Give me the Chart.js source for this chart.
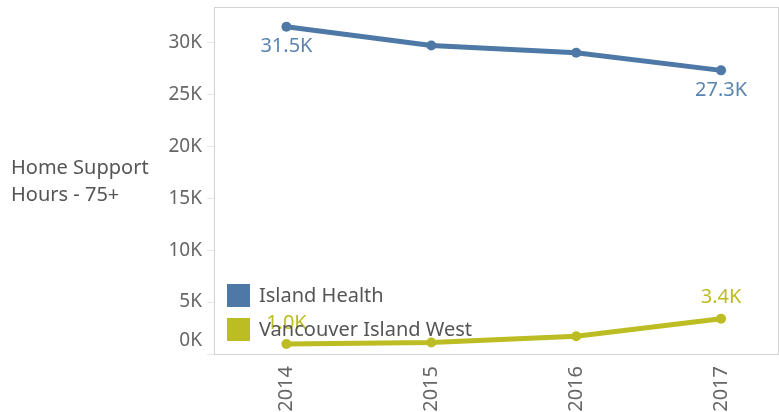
<!DOCTYPE html>
<html>
<head>
<meta charset="utf-8">
<script src="https://cdn.jsdelivr.net/npm/chart.js@4/dist/chart.umd.min.js"></script>
<style>
  body { margin: 0; background: #fff; }
  canvas { display: block; }
</style>
</head>
<body>
<canvas id="canvas" width="779" height="412"></canvas>
<script>
// values (thousands of hours)
const years = [2014, 2015, 2016, 2017];
const islandHealth = [31.5, 29.7, 29.0, 27.3];
const viWest = [0.96, 1.1, 1.7, 3.4];
const yTicks = [0, 5, 10, 15, 20, 25, 30];
const seriesNames = ['Island Health', 'Vancouver Island West'];
const axisTitle = ['Home Support', 'Hours - 75+'];

const FONT = '"Noto Sans", sans-serif';
const BLUE = '#4e79a7';
const OLIVE = '#bcbd22';

const toPoints = vals => vals.map((v, i) => ({ x: years[i], y: v }));

// frame, end labels, in-plot legend and the y title
const extras = {
  id: 'extras',
  beforeDatasetsDraw(chart) {
    const { ctx, chartArea: a } = chart;
    ctx.save();
    ctx.strokeStyle = '#d3d3d3';
    ctx.lineWidth = 1;
    ctx.strokeRect(a.left + 0.5, a.top + 0.5, a.right - a.left - 1, a.bottom - a.top);
    ctx.restore();
  },
  afterDraw(chart) {
    const { ctx, chartArea: a } = chart;
    ctx.save();
    ctx.font = '20px ' + FONT;
    ctx.textAlign = 'center';
    ctx.textBaseline = 'middle';

    // first/last value labels
    chart.data.datasets.forEach((ds, di) => {
      const pts = chart.getDatasetMeta(di).data;
      const below = di === 0;
      [0, pts.length - 1].forEach(i => {
        const p = pts[i];
        ctx.fillStyle = di === 0 ? '#5b84b1' : OLIVE;
        ctx.fillText(ds.data[i].y.toFixed(1) + 'K', p.x, p.y + (below ? 20 : -21));
      });
    });

    // 0K label sits a little above the base line
    const ys = chart.scales.y;
    ctx.fillStyle = '#666';
    ctx.font = '19px ' + FONT;
    ctx.textAlign = 'right';
    ctx.fillText('0K', a.left - 12, ys.getPixelForValue(0) - 13);

    // legend
    ctx.font = '20px ' + FONT;
    ctx.textAlign = 'left';
    chart.data.datasets.forEach((ds, di) => {
      const top = a.bottom - 70 + di * 34;
      ctx.fillStyle = ds.borderColor;
      ctx.fillRect(a.left + 13, top, 23, 23);
      ctx.fillStyle = '#555';
      ctx.fillText(ds.label, a.left + 45, top + 12);
    });

    // y title
    ctx.font = '20px ' + FONT;
    ctx.fillStyle = '#555';
    ctx.fillText(axisTitle[0], 11, 168);
    ctx.fillText(axisTitle[1], 11, 195);
    ctx.restore();
  }
};

new Chart(document.getElementById('canvas').getContext('2d'), {
  type: 'line',
  data: {
    datasets: [
      {
        label: seriesNames[0],
        data: toPoints(islandHealth),
        borderColor: BLUE,
        backgroundColor: BLUE,
        borderWidth: 5,
        pointRadius: 5,
        pointBorderWidth: 0,
        tension: 0
      },
      {
        label: seriesNames[1],
        data: toPoints(viWest),
        borderColor: OLIVE,
        backgroundColor: OLIVE,
        borderWidth: 5,
        pointRadius: 5,
        pointBorderWidth: 0,
        tension: 0
      }
    ]
  },
  options: {
    responsive: false,
    animation: false,
    layout: { autoPadding: false, padding: { top: 7, right: 0, left: 0, bottom: 0 } },
    plugins: { legend: { display: false }, tooltip: { enabled: false } },
    scales: {
      x: {
        type: 'linear',
        min: 2013.5,
        max: 2017.4,
        afterBuildTicks: s => { s.ticks = years.map(v => ({ value: v })); },
        afterFit: s => { s.height = 58; s.paddingLeft = 0; s.paddingRight = 0; },
        grid: { display: false, drawTicks: false },
        border: { display: false },
        ticks: {
          minRotation: 90,
          maxRotation: 90,
          padding: 12,
          color: '#666',
          font: { family: FONT, size: 20 },
          callback: v => String(v)
        }
      },
      y: {
        min: 0,
        max: 33.4,
        afterBuildTicks: s => { s.ticks = yTicks.map(v => ({ value: v })); },
        afterFit: s => { s.width = 214; s.paddingTop = 0; s.paddingBottom = 0; },
        grid: { drawOnChartArea: false, color: '#e6e6e6', tickLength: 7 },
        border: { display: false },
        ticks: {
          padding: 5,
          color: c => c.tick && c.tick.value === 0 ? 'rgba(0,0,0,0)' : '#666',
          font: { family: FONT, size: 19 },
          callback: v => v + 'K'
        }
      }
    }
  },
  plugins: [extras]
});
</script>
</body>
</html>
